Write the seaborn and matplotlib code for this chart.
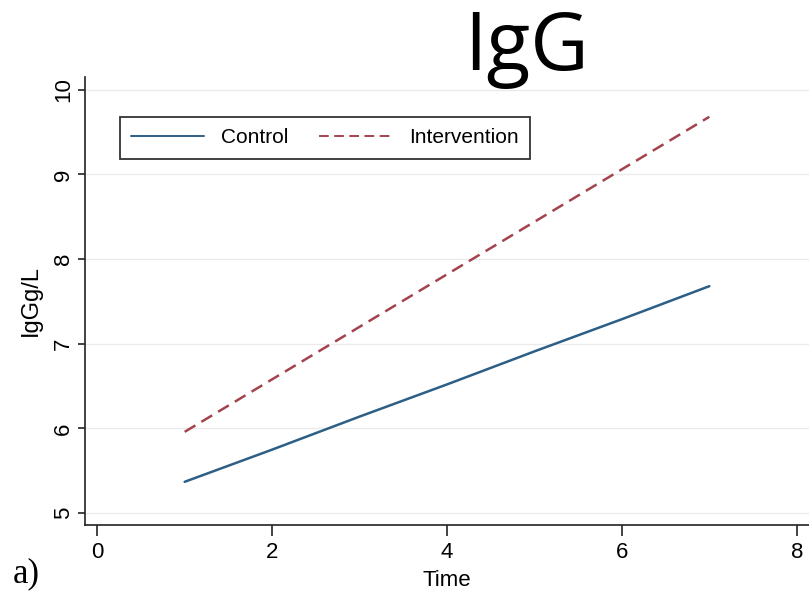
import matplotlib
matplotlib.use("Agg")
import matplotlib.pyplot as plt
import seaborn as sns
import pandas as pd

# data
time = [1, 2, 3, 4, 5, 6, 7]
control = [5.37, 5.75, 6.14, 6.52, 6.91, 7.29, 7.68]
intervention = [5.96, 6.58, 7.20, 7.82, 8.44, 9.06, 9.68]
groups = ["Control", "Intervention"]
x_ticks = [0, 2, 4, 6, 8]
y_ticks = [5, 6, 7, 8, 9, 10]

df = pd.DataFrame({
    "Time": time + time,
    "IgG": control + intervention,
    "Group": [groups[0]] * len(time) + [groups[1]] * len(time),
})

sns.set_style("white")
plt.rcParams["font.family"] = ["Liberation Sans", "DejaVu Sans"]
plt.rcParams["text.color"] = "black"
plt.rcParams["axes.labelcolor"] = "black"

fig = plt.figure(figsize=(8.09, 5.93), dpi=100)
ax = fig.add_axes([85 / 809, 1 - 525 / 593, 1 - 85 / 809, (525 - 77) / 593])

palette = {"Control": "#2d5f86", "Intervention": "#a3434d"}
dashes = {"Control": "", "Intervention": (5, 2.8)}
sns.lineplot(data=df, x="Time", y="IgG", hue="Group", style="Group",
             palette=palette, dashes=dashes, linewidth=1.8, ax=ax,
             legend=True, zorder=3)

ax.set_xlim(-0.14, 8.14)
ax.set_ylim(4.86, 10.15)
ax.set_xticks(x_ticks)
ax.set_yticks(y_ticks)
ax.set_xticklabels([str(v) for v in x_ticks], fontsize=16)
ax.set_yticklabels([str(v) for v in y_ticks], fontsize=16, rotation=90, va="center")
ax.grid(axis="y", color="#ebebeb", linewidth=1.0, zorder=0)
ax.grid(axis="x", visible=False)

for s in ["top", "right"]:
    ax.spines[s].set_visible(False)
for s in ["left", "bottom"]:
    ax.spines[s].set_color("#222222")
    ax.spines[s].set_linewidth(1.2)

ax.tick_params(axis="both", direction="out", colors="#222222", labelcolor="black")
ax.tick_params(axis="x", length=8, width=1.2, pad=4)
ax.tick_params(axis="y", length=5, width=1.2, pad=3)
ax.xaxis.set_ticks_position("bottom")
ax.yaxis.set_ticks_position("left")

ax.set_xlabel("Time", fontsize=16, labelpad=5)
ax.set_ylabel("IgGg/L", fontsize=17, labelpad=8)

leg = ax.legend(loc="upper left", bbox_to_anchor=(0.048, 0.911), ncol=2,
                fontsize=15, frameon=True, fancybox=False, borderaxespad=0,
                handlelength=3.5, handletextpad=0.8, columnspacing=1.5,
                borderpad=0.55, title=None)
leg.get_frame().set_edgecolor("black")
leg.get_frame().set_linewidth(1.3)
for line in leg.get_lines():
    line.set_linewidth(1.4)

fig.text(527 / 809, 1 - 70 / 593, "IgG", fontsize=58, family="Open Sans",
         ha="center", va="baseline", color="black")
fig.text(13 / 809, 1 - 582 / 593, "a)", fontsize=25, family="Liberation Serif",
         ha="left", va="baseline", color="black")

fig.savefig("out.png", dpi=100)
